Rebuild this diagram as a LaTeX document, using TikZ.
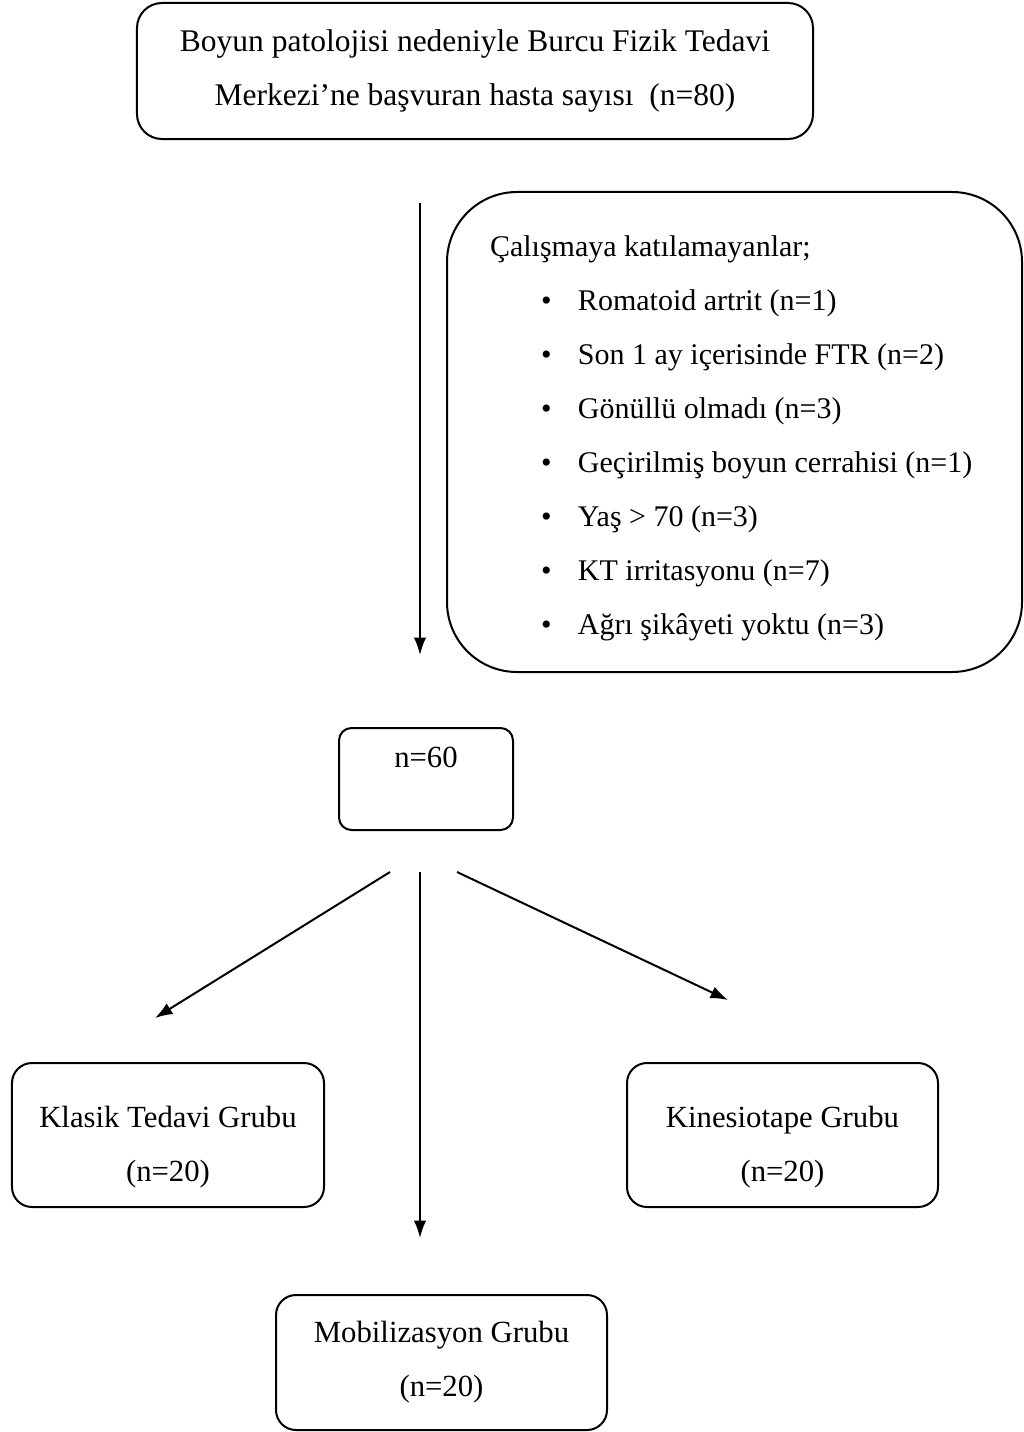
\documentclass[tikz,border=0pt]{standalone}
\usepackage{fontspec}
\setmainfont{Liberation Serif}
\usetikzlibrary{arrows.meta}
\newcommand{\exclitem}[1]{\hspace*{20.4pt}\makebox[14.8pt][l]{\textbullet}#1}

\begin{document}
\begin{tikzpicture}[x=0.4pt, y=-0.4pt, line width=0.8pt,
	  font=\fontsize{12.3}{21.6}\selectfont,
	  box/.style={draw, rounded corners=8pt, align=center, inner sep=0pt},
	  arr/.style={-{Latex[length=7pt,width=5pt]}}]
	  \useasboundingbox (0,0) rectangle (1024,1432);

	  \node [box, rounded corners=10pt, minimum width=270.4pt, minimum height=54.4pt,
	    font=\fontsize{12.6}{21.6}\selectfont] (total) at (475,71)
	    {Boyun patolojisi nedeniyle Burcu Fizik Tedavi\\Merkezi’ne başvuran hasta sayısı\ \ (n=80)};

	  \node [box, rounded corners=28pt, align=flush left, text width=195.6pt, inner xsep=17.2pt,
	    minimum height=192pt, font=\fontsize{12}{21.6}\selectfont] (excl) at (734.5,432)
	    {\rule{0pt}{13.4pt}Çalışmaya katılamayanlar;\\
	     \exclitem{Romatoid artrit (n=1)}\\
	     \exclitem{Son 1 ay içerisinde FTR (n=2)}\\
	     \exclitem{Gönüllü olmadı (n=3)}\\
	     \exclitem{Geçirilmiş boyun cerrahisi (n=1)}\\
	     \exclitem{Yaş > 70 (n=3)}\\
	     \exclitem{KT irritasyonu (n=7)}\\
	     \exclitem{Ağrı şikâyeti yoktu (n=3)}};

	  \coordinate (in0) at (420,203);
	  \coordinate (in1) at (420,655);
	  \draw [arr] (in0) to (in1);

	  \node [box, rounded corners=5pt, minimum width=69.6pt, minimum height=40.8pt, text depth=17.7pt] (n60) at (426,779) {n=60};

	  \node [box, minimum width=124.8pt, minimum height=57.6pt] (klasik)  at (168,1135)   {\rule{0pt}{18pt}Klasik Tedavi Grubu\\(n=20)};
	  \node [box, minimum width=124.4pt, minimum height=57.6pt] (kinesio) at (782.5,1135) {\rule{0pt}{18pt}Kinesiotape Grubu\\(n=20)};
	  \node [box, minimum width=132.4pt, minimum height=54pt]   (mobil)   at (441.5,1362.5) {Mobilizasyon Grubu\\(n=20)};

	  \coordinate (sl) at (390,872);
	  \coordinate (sm) at (420,872);
	  \coordinate (sr) at (457,872);
	  \coordinate (tl) at (155,1018);
	  \coordinate (tm) at (420,1238);
	  \coordinate (tr) at (728,1000);
	  \draw [arr] (sl) to (tl);
	  \draw [arr] (sm) to (tm);
	  \draw [arr] (sr) to (tr);
	\end{tikzpicture}
\end{document}
